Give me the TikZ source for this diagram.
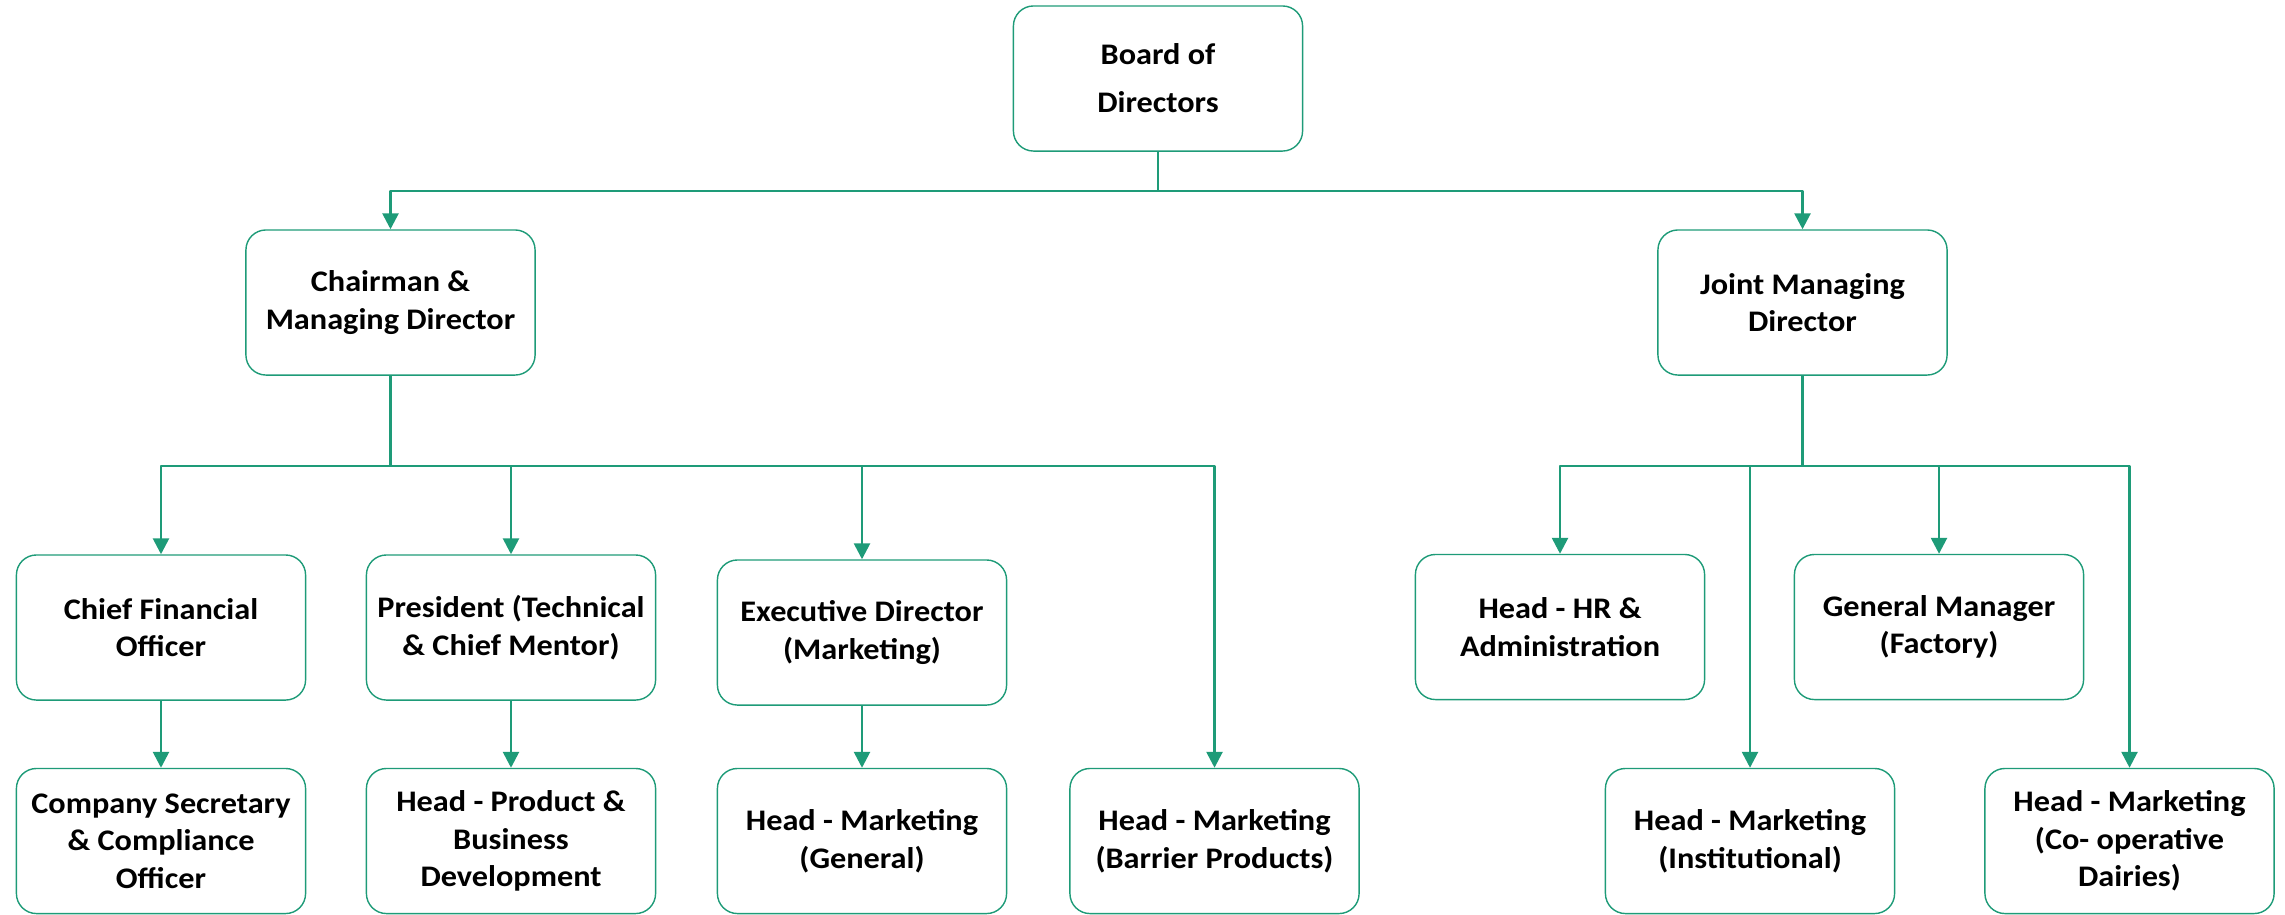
\documentclass[tikz,border=0pt]{standalone}
\usepackage{fontspec}
\setmainfont{Carlito}[FakeStretch=1.08]
\usetikzlibrary{arrows.meta,calc,positioning}
\definecolor{orggreen}{RGB}{30,155,120}

\begin{document}
\begin{tikzpicture}[x=0.01cm,y=-0.01cm,line join=round,
  box/.style={draw=orggreen,line width=0.4pt,rounded corners=0.2cm,minimum width=2.89cm,minimum height=1.45cm,inner sep=0pt,align=center,font=\bfseries\fontsize{8.5pt}{10.7pt}\selectfont},
  link/.style={orggreen,line width=0.77pt},
  tip/.style={link,-{Triangle[width=0.16cm,length=0.16cm]}}]
\useasboundingbox (0,0) rectangle (2285,914);
% top levels
\node[box,font=\bfseries\fontsize{8.5pt}{13.7pt}\selectfont] (board) at (1158,78.5) {Board of\\Directors};
\node[box] (cmd) at (390.5,302.5) {Chairman \&\\Managing Director};
\node[box] (jmd) at (1802.5,302.5) {Joint Managing\\Director};
% left branch
\node[box] (cfo) at (161,627.5) {Chief Financial\\Officer};
\node[box] (pres) at (511,627.5) {President (Technical\\\& Chief Mentor)};
\node[box] (exd) at (862,632.5) {Executive Director\\(Marketing)};
\node[box] (cosec) at (161,841) {Company Secretary\\\& Compliance\\Officer};
\node[box] (hprod) at (511,841) {Head - Product \&\\Business\\Development};
\node[box] (hgen) at (862,841) {Head - Marketing\\(General)};
\node[box] (hbar) at (1214.5,841) {Head - Marketing\\(Barrier Products)};
% right branch
\node[box] (hr) at (1560,627) {Head - HR \&\\Administration};
\node[box] (gm) at (1939,627) {General Manager\\(Factory)};
\node[box] (inst) at (1750,841) {Head - Marketing\\(Institutional)};
\node[box] (coop) at (2129.5,841) {Head - Marketing\\(Co- operative\\Dairies)};
% connectors
\coordinate (bus0) at (0,191);
\coordinate (bus1) at (0,466);
\draw[link] (board.south) -- (board.south |- bus0);
\draw[tip] (board.south |- bus0) -| (cmd.north);
\draw[tip] (board.south |- bus0) -| (jmd.north);
\draw[link] (cmd.south) -- (cmd.south |- bus1);
\foreach \n in {cfo,pres,exd,hbar}{\draw[tip] (cmd.south |- bus1) -| (\n.north);}
\foreach \a/\b in {cfo/cosec,pres/hprod,exd/hgen}{\draw[tip] (\a.south) -- (\b.north);}
\draw[link] (jmd.south) -- (jmd.south |- bus1);
\foreach \n in {hr,inst,gm,coop}{\draw[tip] (jmd.south |- bus1) -| (\n.north);}
\end{tikzpicture}
\end{document}
